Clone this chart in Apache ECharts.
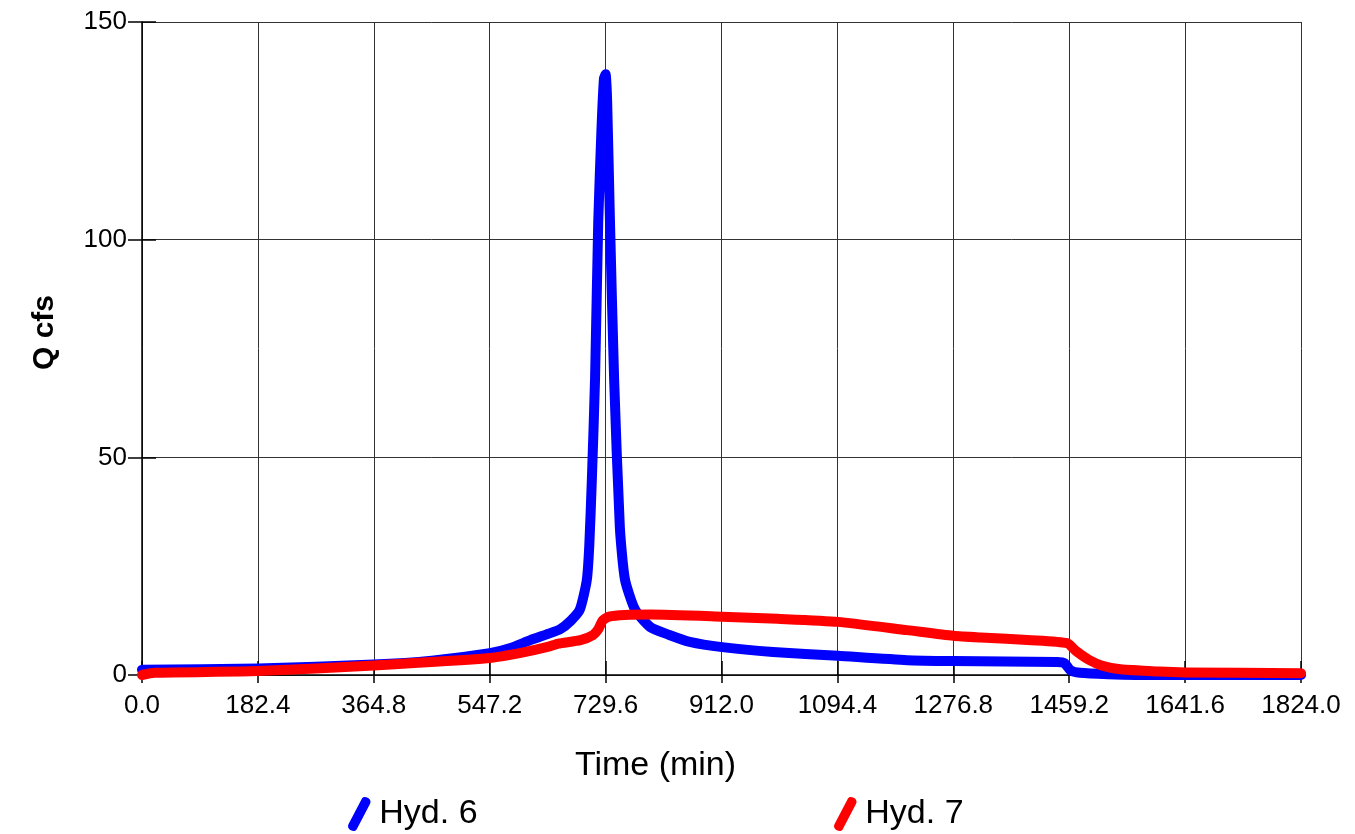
<!DOCTYPE html>
<html>
<head>
<meta charset="utf-8">
<script src="https://cdn.jsdelivr.net/npm/echarts@6/dist/echarts.min.js"></script>
<style>
html,body{margin:0;padding:0;background:#fff;}
#chart{width:1355px;height:834px;}
</style>
</head>
<body>
<div id="chart"></div>
<script>
// Time (min) and flow (cfs)
const hyd6Time = [0, 182.4, 364.8, 456, 547.2, 580, 611, 640, 658, 675, 689, 700, 704, 708, 713, 718, 723, 727, 729.6, 732, 736.5, 743, 752, 760, 776, 800, 830, 862, 913, 993, 1095, 1204, 1276.8, 1440, 1452, 1461, 1476, 1520, 1600, 1824];
const hyd6Flow = [1.2, 1.5, 2.4, 3.3, 5.0, 6.2, 8.0, 9.5, 10.5, 12.5, 15, 21.8, 30, 45, 68, 104, 125, 137, 138, 132, 104, 68, 34, 22, 15, 11, 9.2, 7.6, 6.4, 5.3, 4.4, 3.4, 3.2, 3.0, 2.7, 1.1, 0.5, 0.2, 0, 0];

const hyd7Time = [0, 20, 182.4, 364.8, 547.2, 600, 640, 655, 690, 710, 718, 725, 735, 760, 800, 913, 1000, 1095, 1204, 1276.8, 1320, 1400, 1456, 1470, 1490, 1510, 1540, 1600, 1641.6, 1824];
const hyd7Flow = [0, 0.5, 0.9, 2.2, 3.9, 5.2, 6.5, 7.2, 8.0, 9.2, 10.5, 12.5, 13.4, 13.8, 13.9, 13.4, 12.9, 12.2, 10.3, 9.0, 8.6, 8.0, 7.3, 5.5, 3.5, 2.2, 1.3, 0.8, 0.6, 0.4];

const seriesNames = ['Hyd. 6', 'Hyd. 7'];
const xAxisName = 'Time (min)';
const yAxisName = 'Q cfs';

const pair = (xs, ys) => xs.map((x, i) => [x, ys[i]]);
const FONT = 'Liberation Sans, Arial, sans-serif';

// slanted line legend icon
const icon = 'path://M3,28 C1,27 0,25 1,23 L12,2 C13,0 15,0 17,1 C19,2 20,4 19,6 L8,27 C7,29 5,29 3,28 Z';

const chart = echarts.init(document.getElementById('chart'), null, {renderer: 'canvas'});
chart.setOption({
  animation: false,
  backgroundColor: '#ffffff',
  grid: {left: 142, right: 54, top: 22, bottom: 159},
  legend: [
    {data: [seriesNames[0]], left: 343, top: 792, icon: icon, itemWidth: 24, itemHeight: 34, itemGap: 10,
     textStyle: {fontFamily: FONT, fontSize: 34, color: '#000', padding: [0, 0, 0, 3]}},
    {data: [seriesNames[1]], left: 829, top: 792, icon: icon, itemWidth: 24, itemHeight: 34, itemGap: 10,
     textStyle: {fontFamily: FONT, fontSize: 34, color: '#000', padding: [0, 0, 0, 3]}}
  ],
  xAxis: [
    {
      type: 'value', min: 0, max: 1824, interval: 182.4, position: 'bottom',
      name: xAxisName, nameLocation: 'middle', nameGap: 74,
      nameTextStyle: {fontFamily: FONT, fontSize: 34, color: '#000', padding: [0, 132, 0, 0]},
      axisLine: {show: true, onZero: false, lineStyle: {color: '#000', width: 1.5}},
      axisTick: {show: true, inside: false, length: 8, lineStyle: {color: '#000', width: 1.5}},
      axisLabel: {fontFamily: FONT, fontSize: 26, color: '#000', margin: 18, formatter: v => v.toFixed(1)},
      splitLine: {show: true, lineStyle: {color: '#333', width: 1}}
    },
    {
      type: 'value', min: 0, max: 1824, interval: 182.4, position: 'bottom',
      axisLine: {show: false},
      axisTick: {show: true, inside: true, length: 14, lineStyle: {color: '#000', width: 1.5}},
      axisLabel: {show: false},
      splitLine: {show: false}
    }
  ],
  yAxis: [
    {
      type: 'value', min: 0, max: 150, interval: 50, position: 'left',
      name: yAxisName, nameLocation: 'middle', nameGap: 82, nameRotate: 90,
      nameTextStyle: {fontFamily: FONT, fontSize: 30, fontWeight: 'bold', color: '#000', padding: [0, 0, 0, 32]},
      axisLine: {show: true, onZero: false, lineStyle: {color: '#000', width: 1.5}},
      axisTick: {show: true, inside: false, length: 14, lineStyle: {color: '#000', width: 1.5}},
      axisLabel: {fontFamily: FONT, fontSize: 26, color: '#000', margin: 15},
      splitLine: {show: true, lineStyle: {color: '#333', width: 1}}
    },
    {
      type: 'value', min: 0, max: 150, interval: 50, position: 'left',
      axisLine: {show: false},
      axisTick: {show: true, inside: true, length: 14, lineStyle: {color: '#000', width: 1.5}},
      axisLabel: {show: false},
      splitLine: {show: false}
    }
  ],
  series: [
    {
      name: seriesNames[0], type: 'line', data: pair(hyd6Time, hyd6Flow),
      showSymbol: false, symbol: 'none', smooth: 0.2, color: '#0000ff',
      lineStyle: {color: '#0000ff', width: 10, cap: 'round', join: 'round'}
    },
    {
      name: seriesNames[1], type: 'line', data: pair(hyd7Time, hyd7Flow),
      showSymbol: false, symbol: 'none', smooth: 0.2, color: '#ff0000',
      lineStyle: {color: '#ff0000', width: 10, cap: 'round', join: 'round'}
    }
  ]
});
</script>
</body>
</html>
